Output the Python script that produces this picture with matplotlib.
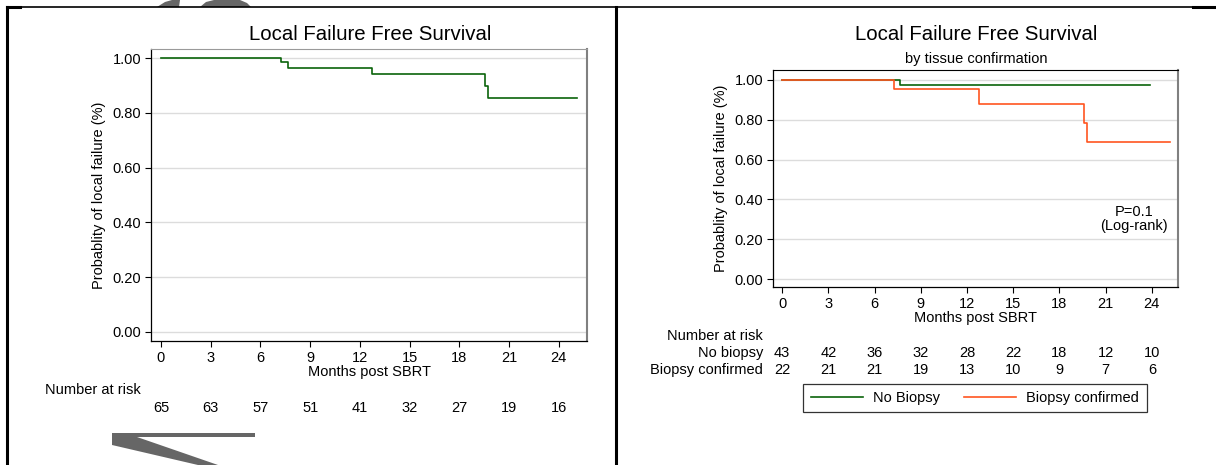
import matplotlib
matplotlib.use("Agg")
import matplotlib.pyplot as plt
import matplotlib.transforms as mtransforms
from matplotlib.patches import Polygon
from matplotlib.lines import Line2D

plt.rcParams['font.family'] = ['Liberation Sans', 'DejaVu Sans']

# ── Data ─────────────────────────────────────────────────────────────────────
# left panel: overall KM curve (step times, survival after each step)
all_t = [0, 7.24, 7.66, 12.73, 19.56, 19.74, 25.1]
all_s = [1.0, 0.985, 0.965, 0.940, 0.898, 0.855, 0.855]
all_risk = [65, 63, 57, 51, 41, 32, 27, 19, 16]

# right panel: by tissue confirmation
nob_t = [0, 7.66, 23.85]
nob_s = [1.0, 0.973, 0.973]
bio_t = [0, 7.25, 12.78, 19.62, 19.77, 25.15]
bio_s = [1.0, 0.955, 0.881, 0.784, 0.688, 0.688]
nob_risk = [43, 42, 36, 32, 28, 22, 18, 12, 10]
bio_risk = [22, 21, 21, 19, 13, 10, 9, 7, 6]

months = [0, 3, 6, 9, 12, 15, 18, 21, 24]
yticks = [0.0, 0.2, 0.4, 0.6, 0.8, 1.0]

green = '#0a640a'
orange = '#ff5520'
fs = 10.5

W, H = 1216, 465
fig = plt.figure(figsize=(W / 100, H / 100), dpi=100)


def px_axes(x0, y0, x1, y1):
    return fig.add_axes([x0 / W, 1 - y1 / H, (x1 - x0) / W, (y1 - y0) / H])


def fy(y):
    return 1 - y / H


def style(ax, ylo, yhi, topcol):
    ax.set_xlim(-0.6, 25.7)
    ax.set_ylim(ylo, yhi)
    ax.set_xticks(months)
    ax.set_yticks(yticks)
    ax.set_yticklabels([f'{v:.2f}' for v in yticks])
    ax.tick_params(labelsize=fs, length=4, width=0.8, pad=3)
    ax.grid(axis='y', color='#dcdcdc', linewidth=1)
    ax.set_axisbelow(True)
    ax.spines['left'].set_linewidth(0.9)
    ax.spines['bottom'].set_linewidth(0.9)
    ax.spines['top'].set_color(topcol)
    ax.spines['right'].set_color('#808080')
    ax.spines['right'].set_linewidth(1.5)
    ax.set_xlabel('Months post SBRT', fontsize=fs, labelpad=0)
    ax.set_ylabel('Probablity of local failure (%)', fontsize=fs, labelpad=5)


# ── Left panel ───────────────────────────────────────────────────────────────
ax1 = px_axes(151, 49, 587, 341)
ax1.step(all_t, all_s, where='post', color=green, linewidth=1.2)
style(ax1, -0.033, 1.033, '#9a9a9a')
fig.text(370 / W, fy(35), 'Local Failure Free Survival', fontsize=14.7,
         ha='center', va='center')
tr1 = mtransforms.blended_transform_factory(ax1.transData, fig.transFigure)
fig.text(45 / W, fy(390), 'Number at risk', fontsize=fs, ha='left', va='center')
for m, n in zip(months, all_risk):
    ax1.text(m, fy(408), str(n), transform=tr1, fontsize=fs,
             ha='center', va='center')

# ── Right panel ──────────────────────────────────────────────────────────────
ax2 = px_axes(773, 70, 1178, 287)
ax2.step(nob_t, nob_s, where='post', color=green, linewidth=1.2)
ax2.step(bio_t, bio_s, where='post', color=orange, linewidth=1.2)
style(ax2, -0.04, 1.05, 'black')
fig.text(1168 / W, fy(219), 'P=0.1\n(Log-rank)', fontsize=fs, ha='right',
         va='center', multialignment='center', linespacing=1.05)
fig.text(976 / W, fy(35), 'Local Failure Free Survival', fontsize=14.7,
         ha='center', va='center')
fig.text(976 / W, fy(59), 'by tissue confirmation', fontsize=fs,
         ha='center', va='center')
tr2 = mtransforms.blended_transform_factory(ax2.transData, fig.transFigure)
fig.text(763 / W, fy(336), 'Number at risk', fontsize=fs, ha='right', va='center')
fig.text(763 / W, fy(353), 'No biopsy', fontsize=fs, ha='right', va='center')
fig.text(763 / W, fy(370), 'Biopsy confirmed', fontsize=fs, ha='right', va='center')
for m, a, b in zip(months, nob_risk, bio_risk):
    ax2.text(m, fy(353), str(a), transform=tr2, fontsize=fs, ha='center', va='center')
    ax2.text(m, fy(370), str(b), transform=tr2, fontsize=fs, ha='center', va='center')

handles = [Line2D([], [], color=green, linewidth=1.2),
           Line2D([], [], color=orange, linewidth=1.2)]
leg = fig.legend(handles, ['No Biopsy', 'Biopsy confirmed'], ncol=2,
                 loc='center', bbox_to_anchor=(975 / W, fy(398)),
                 fontsize=fs, frameon=True, fancybox=False, handlelength=3.6,
                 columnspacing=1.6, handletextpad=0.7, borderpad=0.5,
                 borderaxespad=0)
leg.get_frame().set_edgecolor('black')
leg.get_frame().set_linewidth(0.9)

# ── Page frame lines and stray grey shapes from the source image ─────────────
def fline(xs, ys, lw):
    fig.add_artist(Line2D([x / W for x in xs], [fy(y) for y in ys],
                          color='black', linewidth=lw))


grey = '#666666'
for pts in ([(157, 7), (165, 2), (172, 0), (180, 0), (179, 7)],
            [(200, 7), (206, 2), (214, 0), (240, 0), (247, 3), (251, 7)],
            [(112, 433), (255, 433), (255, 437), (137, 437),
             (218, 465), (198, 465), (112, 445)]):
    fig.add_artist(Polygon([(x / W, fy(y)) for x, y in pts], closed=True,
                           facecolor=grey, edgecolor='none'))

fline([7, 615], [7.5, 7.5], 1.2)
fline([7, 20], [7.5, 7.5], 2.2)
fline([7, 7], [7, 465], 2.2)
fline([616, 616], [7, 465], 2.2)
fline([616, 1216], [7.5, 7.5], 1.2)
fline([1193, 1216], [7.5, 7.5], 2.2)

fig.savefig('out.png', dpi=100)
